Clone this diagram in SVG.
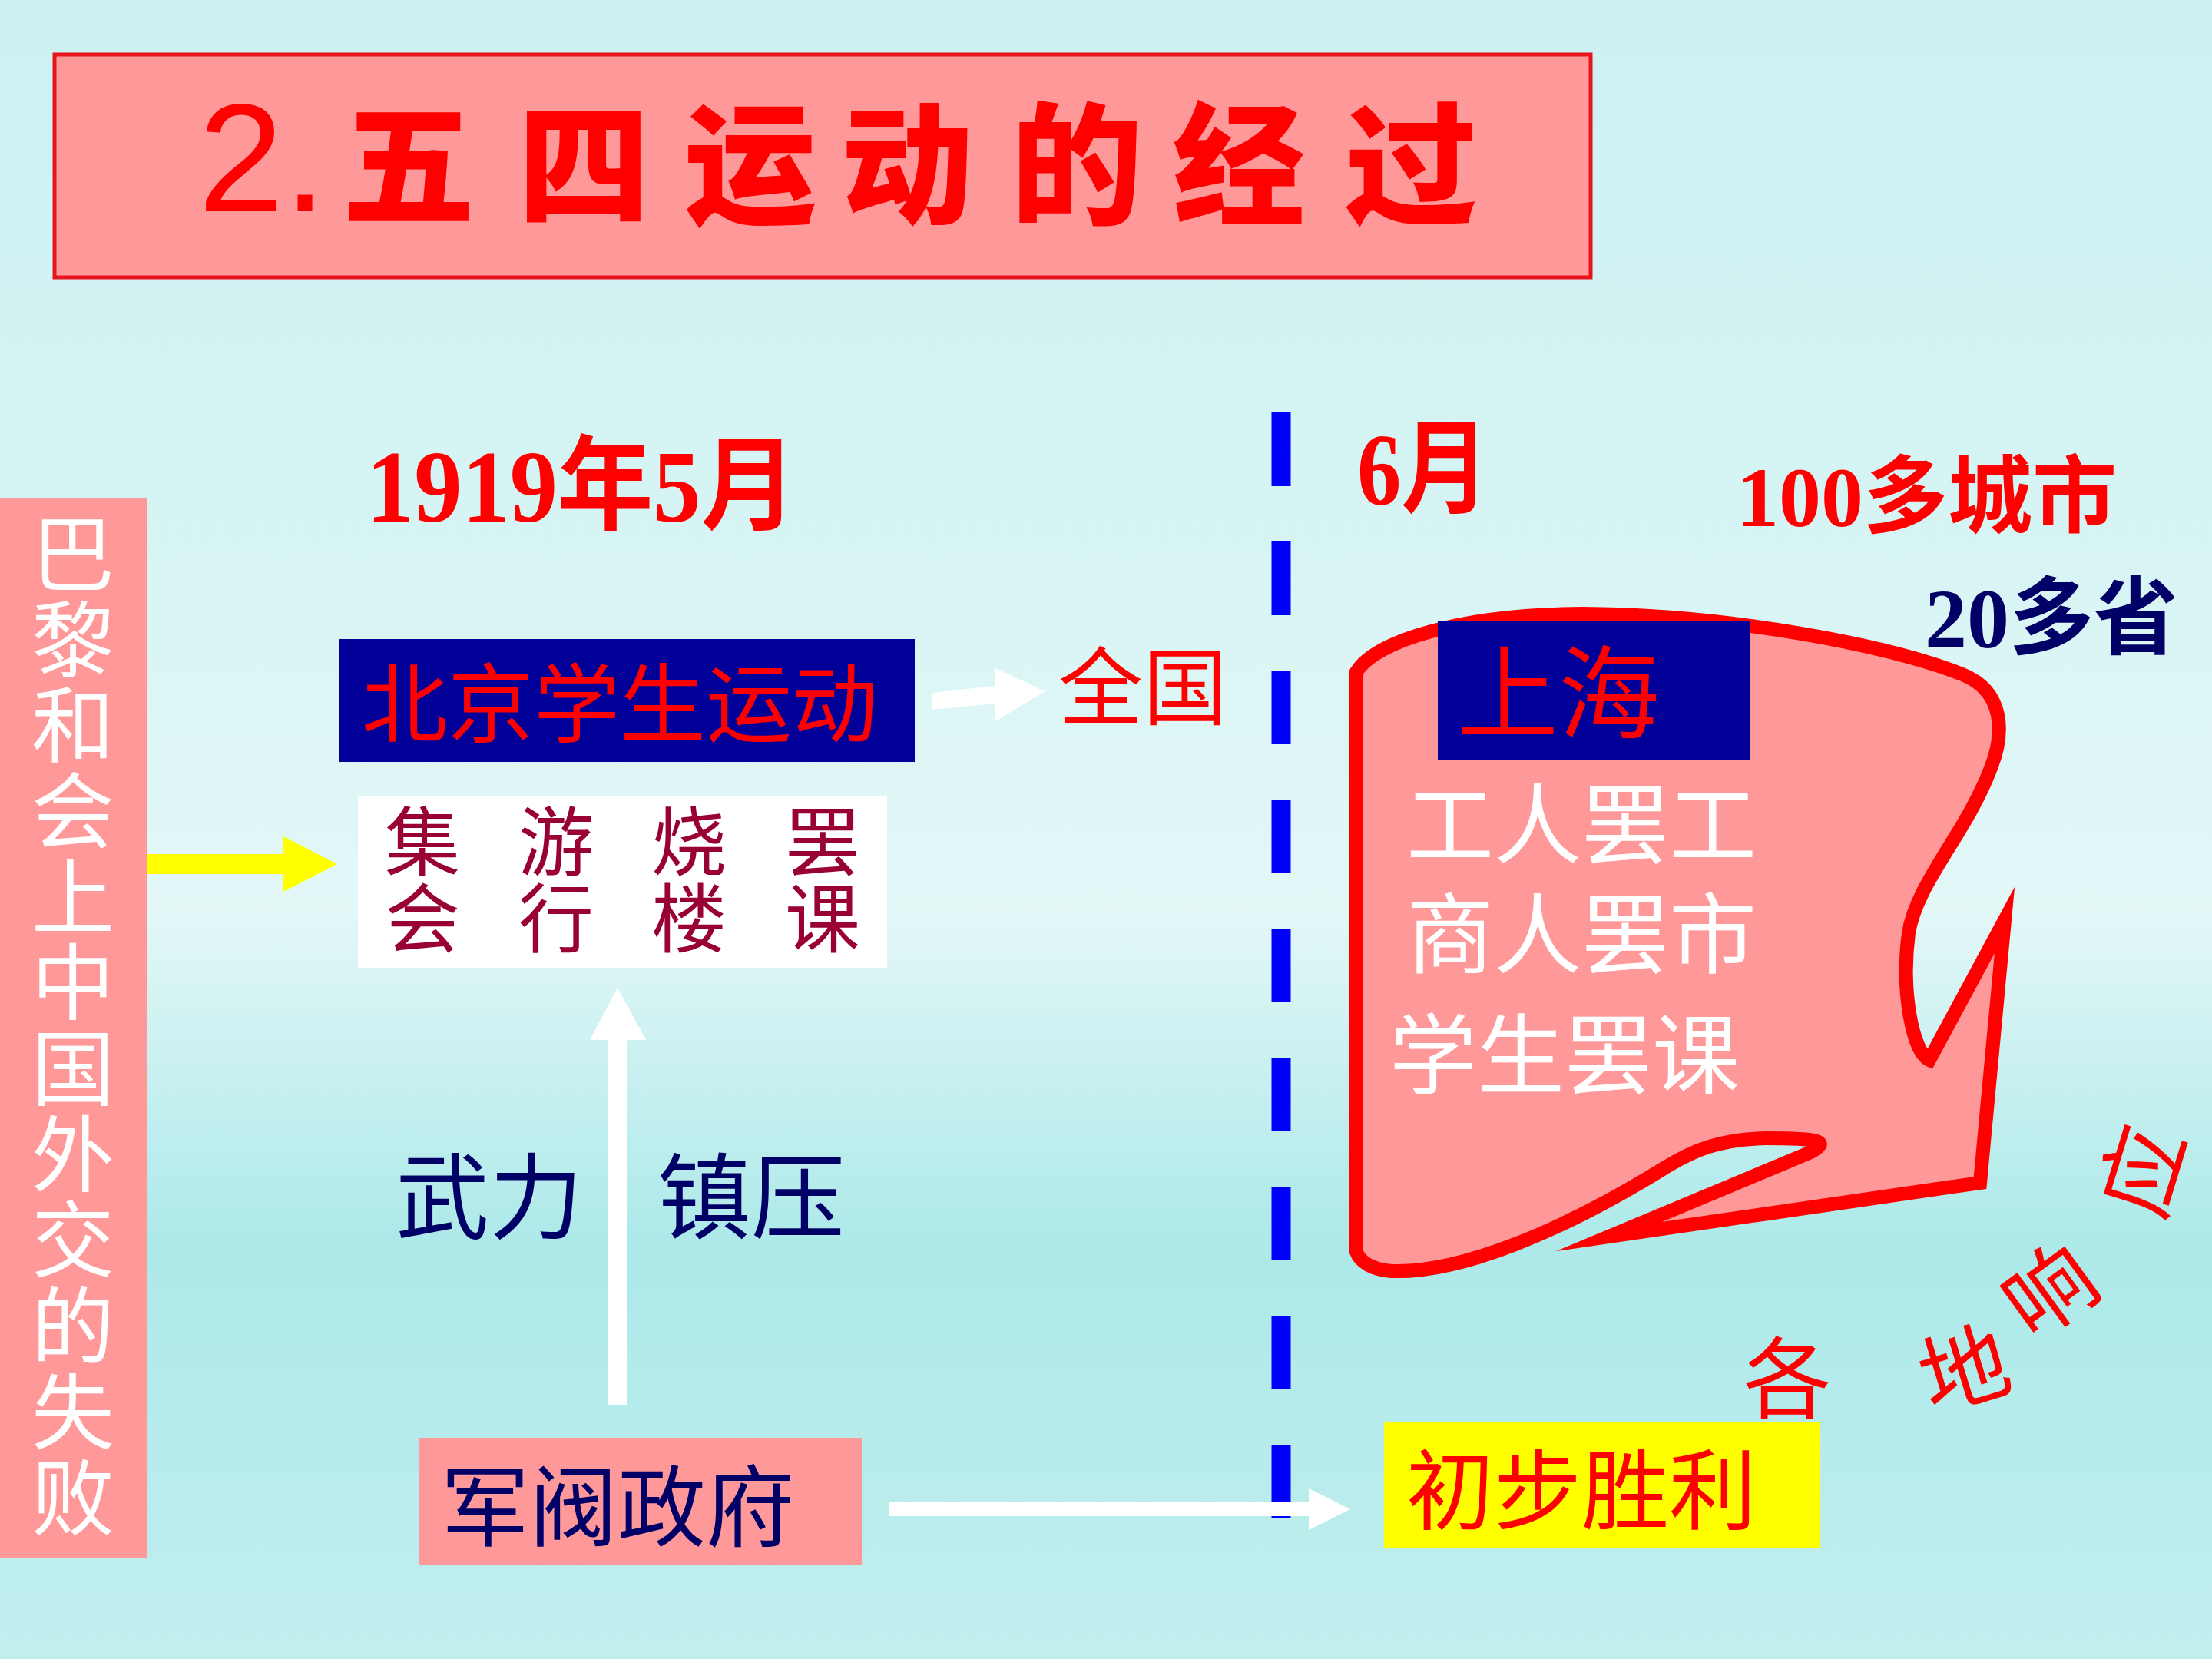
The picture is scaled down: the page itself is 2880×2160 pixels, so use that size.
<svg xmlns="http://www.w3.org/2000/svg" width="2880" height="2160" viewBox="0 0 2880 2160">
<defs>
<linearGradient id="bg" x1="0" y1="0" x2="0" y2="1">
<stop offset="0" stop-color="#cdf1f1"/>
<stop offset="0.3" stop-color="#d6f4f4"/>
<stop offset="0.55" stop-color="#e3f7f7"/>
<stop offset="0.75" stop-color="#ade9e9"/>
<stop offset="1" stop-color="#c2eeee"/>
</linearGradient>
<style>
.cjk{font-family:"Noto Sans CJK SC","Noto Sans CJK TC",sans-serif;}
.ser{font-family:"Liberation Serif","Noto Sans CJK SC",serif;font-weight:bold;}
.red{fill:#ff0000;}
.navy{fill:#000066;}
.white{fill:#ffffff;}
.pink{fill:#ff9999;}
</style>
</defs>
<rect x="0" y="0" width="2880" height="2160" fill="url(#bg)"/>

<g id="title">
<rect x="71" y="71" width="2000" height="290" class="pink" stroke="#e8141c" stroke-width="5"/>
<text x="258" y="275" font-family="Liberation Sans, Arial, sans-serif" font-size="200" class="red">2.</text>
<text class="cjk red" font-size="172" font-weight="900" text-anchor="middle" x="532 760 977 1181 1402 1613 1837" y="278">五四运动的经过</text>
</g>

<g id="paris">
<rect x="0" y="648" width="192" height="1380" class="pink"/>
<text class="cjk white" font-size="108" text-anchor="middle" x="95 95 95 95 95 95 95 95 95 95 95 95" y="761 873 984 1096 1208 1319 1431 1543 1654 1766 1878 1990">巴黎和会上中国外交的失败</text>
</g>

<g id="date1919">
<text class="ser red" font-size="134" x="477" y="679" textLength="560" lengthAdjust="spacingAndGlyphs">1919年5月</text>
</g>

<g id="beijing">
<rect x="441" y="832" width="750" height="160" fill="#000099"/>
<text class="cjk red" font-size="112" x="471" y="958">北京学生运动</text>
</g>

<g id="quanguo">
<text class="cjk red" font-size="110" x="1378" y="935">全国</text>
</g>

<g id="actions">
<rect x="466" y="1036" width="689" height="224" fill="#ffffff"/>
<text class="cjk" fill="#990033" font-size="98" text-anchor="middle" x="550 724 897 1071" y="1132">集游烧罢</text>
<text class="cjk" fill="#990033" font-size="98" text-anchor="middle" x="550 724 897 1071" y="1232">会行楼课</text>
</g>

<g id="suppress">
<text class="cjk navy" font-size="122" x="515" y="1603">武力</text>
<text class="cjk navy" font-size="122" x="856" y="1603">镇压</text>
</g>

<g id="warlord">
<rect x="546" y="1872" width="576" height="165" class="pink"/>
<text class="cjk navy" font-size="115" x="574" y="2004">军阀政府</text>
</g>

<g id="june">
<text class="ser red" font-size="134" x="1767" y="657" textLength="172" lengthAdjust="spacingAndGlyphs">6月</text>
</g>

<g id="cities">
<text class="ser red" font-size="110" x="2261" y="685">100多城市</text>
</g>

<g id="provinces">
<text class="ser navy" font-size="110" x="2506" y="843">20多省</text>
</g>

<g id="shanghai">
<path class="pink" stroke="#ff0000" stroke-width="18" stroke-linejoin="miter" stroke-miterlimit="12" d="M 1766 1630 L 1766 875 C 1790 835, 1900 800, 2060 799 C 2250 800, 2460 840, 2555 878 C 2610 900, 2610 955, 2592 1000 C 2560 1085, 2495 1150, 2485 1215 C 2475 1290, 2490 1370, 2512 1380 L 2610 1198 L 2578 1540 L 2095 1610 L 2358 1500 C 2385 1485, 2365 1482, 2300 1482 C 2240 1483, 2205 1497, 2165 1522 C 2030 1605, 1900 1658, 1812 1655 C 1785 1653, 1770 1642, 1766 1630 Z"/>
<rect x="1872" y="808" width="407" height="181" fill="#000099"/>
<text class="cjk red" font-size="132" x="1897" y="951">上海</text>
<text class="cjk white" font-size="114" x="1831" y="1115">工人罢工</text>
<text class="cjk white" font-size="114" x="1831" y="1258">商人罢市</text>
<text class="cjk white" font-size="114" x="1809" y="1415">学生罢课</text>
</g>

<g id="response">
<text class="cjk red" font-size="115" text-anchor="middle" dominant-baseline="central" transform="translate(2327 1787)">各</text>
<text class="cjk red" font-size="115" text-anchor="middle" dominant-baseline="central" transform="translate(2555 1775) rotate(-17)">地</text>
<text class="cjk red" font-size="115" text-anchor="middle" dominant-baseline="central" transform="translate(2664 1674) rotate(-36)">响</text>
<text class="cjk red" font-size="115" text-anchor="middle" dominant-baseline="central" transform="translate(2782 1522) rotate(-73)">应</text>
</g>

<g id="victory">
<rect x="1802" y="1851" width="567" height="164" fill="#ffff00"/>
<text class="cjk red" font-size="114" x="1831" y="1982">初步胜利</text>
</g>

<g id="connectors">
<line x1="1668" y1="537" x2="1668" y2="1976" stroke="#0000ff" stroke-width="25" stroke-dasharray="96 72"/>
<polygon fill="#ffff00" points="192,1112 369,1112 369,1089 439,1125 369,1161 369,1138 192,1138"/>
<polygon fill="#ffffff" points="1213,902 1296,893 1296,870 1361,900 1296,939 1296,916 1213,924"/>
<polygon fill="#ffffff" points="792,1829 792,1354 768,1354 804,1286 841,1354 816,1354 816,1829"/>
<polygon fill="#ffffff" points="1158,1955 1704,1955 1704,1938 1758,1965 1704,1992 1704,1974 1158,1974"/>
</g>
</svg>
